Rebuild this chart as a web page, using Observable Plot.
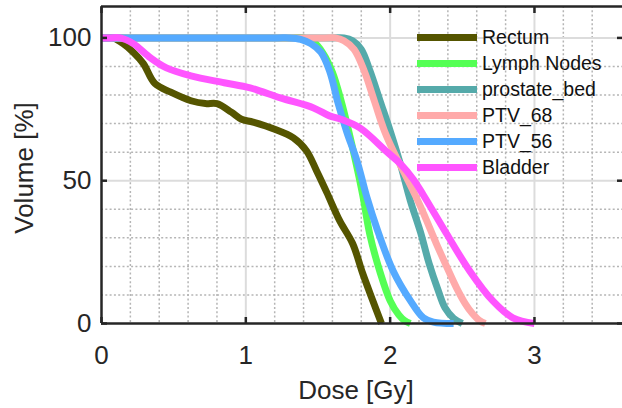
<!DOCTYPE html>
<html>
<head>
<meta charset="utf-8">
<script src="https://cdn.jsdelivr.net/npm/d3@7"></script>
<script src="https://cdn.jsdelivr.net/npm/@observablehq/plot@0.6"></script>
<style>
  html, body { margin: 0; padding: 0; background: #fff; }
  #wrap { position: relative; width: 622px; height: 408px; overflow: hidden; font-family: "Liberation Sans", Arial, sans-serif; color: #262626; }
  .lg-row { position: absolute; left: 417px; height: 26px; display: flex; align-items: center; }
  .lg-sw { width: 60px; height: 7px; margin-right: 5px; }
  .lg-tx { font-size: 19.5px; color: #111; white-space: nowrap; line-height: 26px; }
  .ylab { position: absolute; left: 24px; top: 168px; transform: translate(-50%, -50%) rotate(-90deg); font-size: 26px; white-space: nowrap; }
  .xlab { position: absolute; left: 356px; top: 390px; transform: translate(-50%, -50%); font-size: 26px; white-space: nowrap; }
</style>
</head>
<body>
<div id="wrap"></div>
<script>
// ---- data ----
const structures = ["Rectum", "Lymph Nodes", "prostate_bed", "PTV_68", "PTV_56", "Bladder"];
const colors = ["#555500", "#55ff55", "#55aaaa", "#ffaaaa", "#55aaff", "#ff55ff"];

const rectumDose = [0, 0.04, 0.08, 0.15, 0.22, 0.29, 0.37, 0.48, 0.62, 0.72, 0.8, 0.9, 0.97, 1.05, 1.2, 1.33, 1.42, 1.49, 1.56, 1.65, 1.74, 1.81, 1.88, 1.94];
const rectumVol  = [100, 100, 100, 98, 95, 91, 84, 81, 78, 77, 77, 74, 71.5, 70.5, 68, 65, 60.5, 53.5, 46, 36, 28, 17.5, 8, 0];

const lymphDose = [0, 0.7, 1.3, 1.4, 1.47, 1.53, 1.6, 1.66, 1.71, 1.76, 1.81, 1.86, 1.93, 2.0, 2.06, 2.1, 2.14];
const lymphVol  = [100, 100, 100, 100, 98.5, 95, 88, 78, 68, 57, 45, 31, 18, 8, 3, 1, 0];

const prostateDose = [0, 0.8, 1.6, 1.68, 1.74, 1.8, 1.86, 1.93, 2.0, 2.07, 2.14, 2.21, 2.27, 2.33, 2.38, 2.44, 2.5];
const prostateVol  = [100, 100, 100, 100, 99, 96, 88.5, 78, 67.5, 56, 43, 32, 21, 12, 5.5, 1.8, 0];

const ptv68Dose = [0, 0.8, 1.55, 1.62, 1.68, 1.75, 1.82, 1.89, 1.96, 2.03, 2.1, 2.21, 2.32, 2.4, 2.46, 2.52, 2.57, 2.62, 2.66];
const ptv68Vol  = [100, 100, 100, 100, 99, 96, 88.5, 78, 67.5, 59.5, 52.5, 41, 28, 19, 12.5, 7, 3.5, 1, 0];

const ptv56Dose = [0, 0.65, 1.22, 1.3, 1.38, 1.45, 1.52, 1.58, 1.64, 1.7, 1.77, 1.84, 1.91, 2.02, 2.14, 2.23, 2.3, 2.44];
const ptv56Vol  = [100, 100, 100, 100, 99.5, 98, 95, 88.5, 77, 67, 57, 44, 33, 18.5, 8, 2, 0.5, 0];

const bladderDose = [0, 0.06, 0.13, 0.22, 0.34, 0.45, 0.62, 0.85, 1.03, 1.24, 1.47, 1.58, 1.65, 1.79, 1.98, 2.07, 2.16, 2.23, 2.39, 2.55, 2.71, 2.85, 3.0];
const bladderVol  = [100, 100, 100, 98, 93, 89.5, 86.7, 84.3, 82.5, 79, 75.5, 72.7, 71.7, 68.5, 60, 56, 50.5, 45, 31.5, 18.5, 8, 2, 0];

const xTicks = [0, 1, 2, 3];
const yTicks = [0, 50, 100];
const xMinor = [0.2, 0.4, 0.6, 0.8, 1.2, 1.4, 1.6, 1.8, 2.2, 2.4, 2.6, 2.8, 3.2, 3.4];
const yMinor = [10, 20, 30, 40, 60, 70, 80, 90];
const xDomain = [0, 3.61];
const yDomain = [0, 111];

const xLabel = "Dose [Gy]";
const yLabel = "Volume [%]";

// ---- build table ----
const series = [
  [rectumDose, rectumVol], [lymphDose, lymphVol], [prostateDose, prostateVol],
  [ptv68Dose, ptv68Vol], [ptv56Dose, ptv56Vol], [bladderDose, bladderVol]
];
const rows = [];
series.forEach(([ds, vs], i) => ds.forEach((d, j) => rows.push({name: structures[i], dose: d, vol: vs[j]})));

const dark = "#262626";
const chart = Plot.plot({
  width: 622, height: 408,
  marginLeft: 101, marginRight: 0, marginTop: 6, marginBottom: 85,
  style: {fontFamily: '"Liberation Sans", Arial, sans-serif', fontSize: "26px", color: dark, background: "transparent"},
  x: {domain: xDomain},
  y: {domain: yDomain},
  color: {domain: structures, range: colors},
  marks: [
    Plot.ruleX(xMinor, {stroke: "#b5b5b5", strokeWidth: 1.5, strokeDasharray: "2,2.3"}),
    Plot.ruleY(yMinor, {stroke: "#b5b5b5", strokeWidth: 1.5, strokeDasharray: "2,2.3"}),
    Plot.ruleX(xTicks.slice(1), {stroke: "#dcdcdc", strokeWidth: 2}),
    Plot.ruleY(yTicks.slice(1), {stroke: "#dcdcdc", strokeWidth: 2}),
    Plot.line(rows, {x: "dose", y: "vol", z: "name", stroke: "name", strokeWidth: 7,
      strokeLinecap: "butt", strokeLinejoin: "round", curve: "catmull-rom"}),
    Plot.ruleY([yDomain[0]], {stroke: dark, strokeWidth: 2.5}),
    Plot.ruleY([yDomain[1]], {stroke: dark, strokeWidth: 2.5}),
    Plot.ruleX([xDomain[0]], {stroke: dark, strokeWidth: 2.5}),
    Plot.axisX(xTicks, {anchor: "bottom", tickSize: -6, tickPadding: 28, strokeWidth: 2.5, stroke: dark, tickFormat: d => String(d), label: null}),
    Plot.axisX(xTicks, {anchor: "top", tickSize: -6, strokeWidth: 2.5, stroke: dark, tickFormat: () => "", label: null}),
    Plot.axisY(yTicks, {anchor: "left", tickSize: -6, tickPadding: 16, strokeWidth: 2.5, stroke: dark, tickFormat: d => String(d), label: null}),
    Plot.axisY(yTicks, {anchor: "right", tickSize: -6, strokeWidth: 2.5, stroke: dark, tickFormat: () => "", label: null})
  ]
});

const wrap = document.getElementById("wrap");
wrap.appendChild(chart);

// legend
const legendTop = 24, legendStep = 26;
structures.forEach((s, i) => {
  const row = document.createElement("div");
  row.className = "lg-row";
  row.style.top = (legendTop + i * legendStep) + "px";
  const sw = document.createElement("div");
  sw.className = "lg-sw";
  sw.style.background = colors[i];
  const tx = document.createElement("span");
  tx.className = "lg-tx";
  tx.textContent = s;
  row.appendChild(sw); row.appendChild(tx);
  wrap.appendChild(row);
});

const yl = document.createElement("div");
yl.className = "ylab"; yl.textContent = yLabel; wrap.appendChild(yl);
const xl = document.createElement("div");
xl.className = "xlab"; xl.textContent = xLabel; wrap.appendChild(xl);
</script>
</body>
</html>
